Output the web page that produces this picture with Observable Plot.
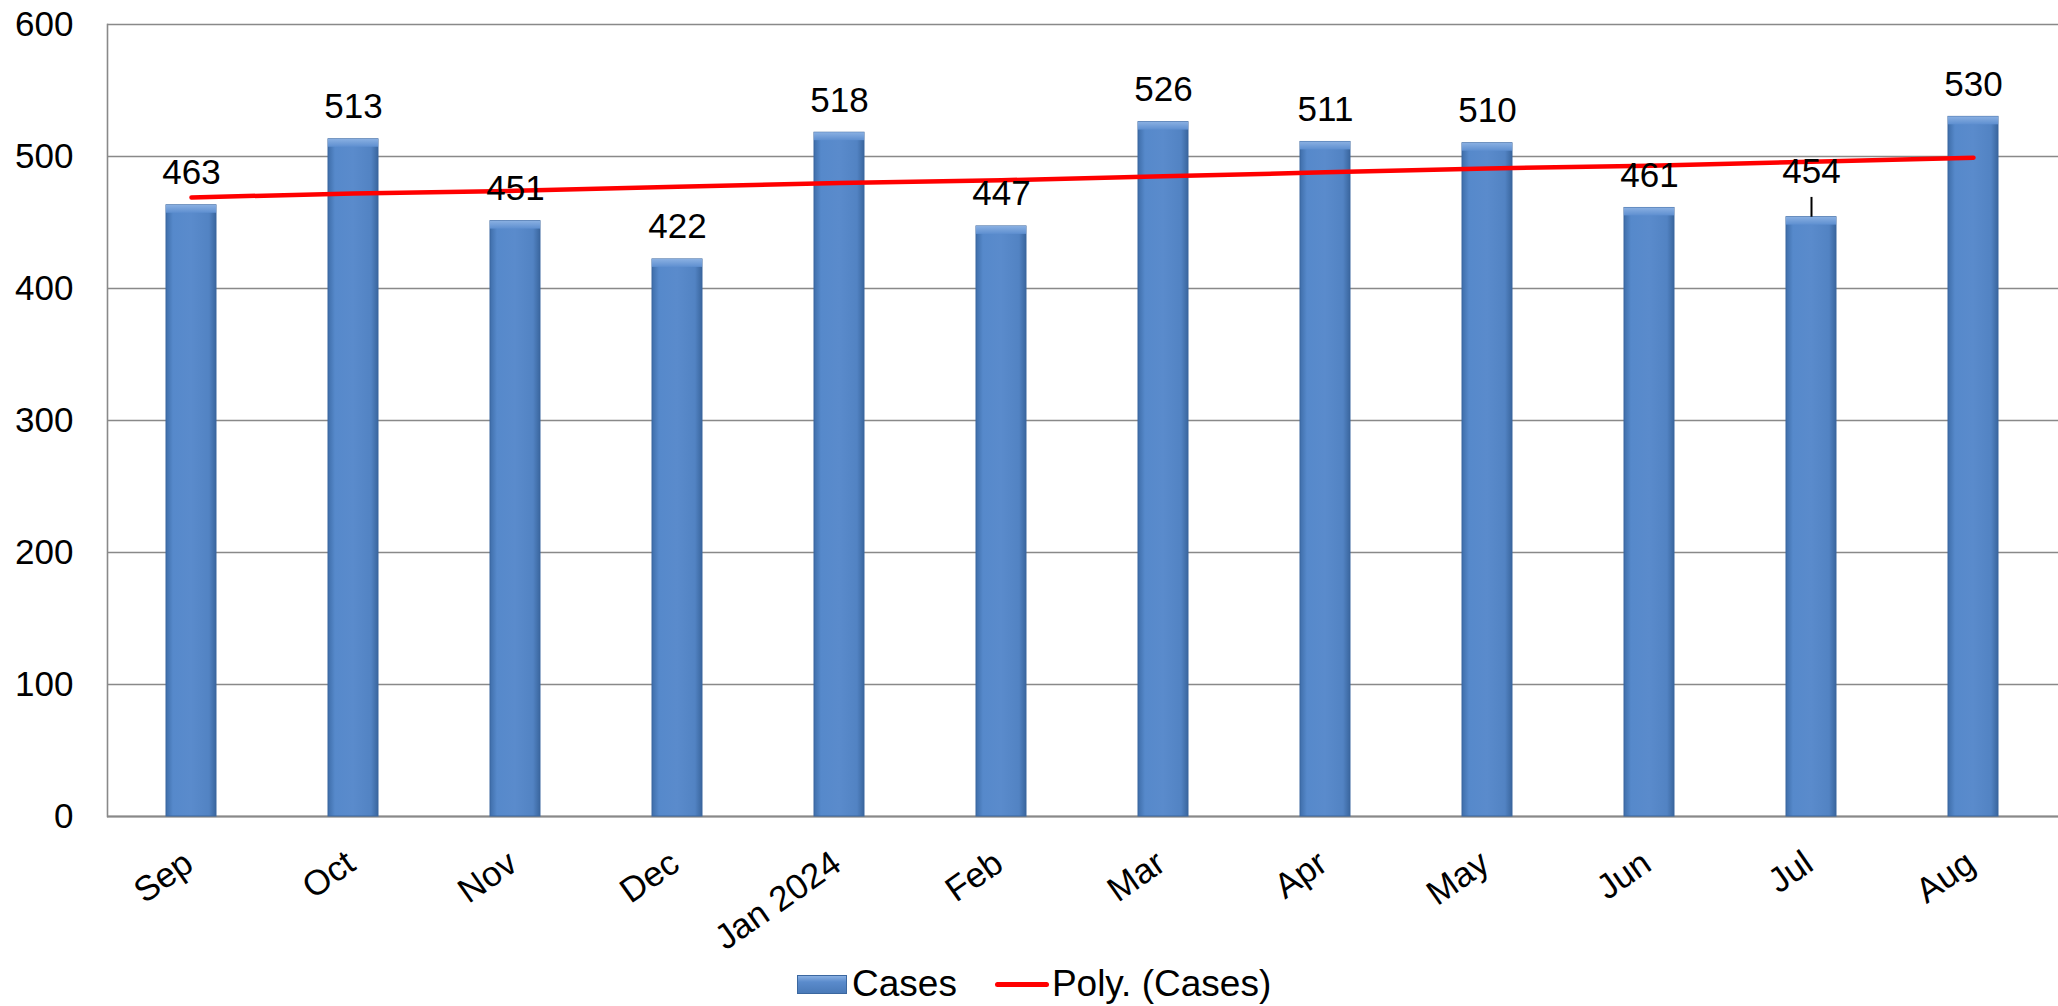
<!DOCTYPE html>
<html>
<head>
<meta charset="utf-8">
<script src="https://cdn.jsdelivr.net/npm/d3@7"></script>
<script src="https://cdn.jsdelivr.net/npm/@observablehq/plot@0.6"></script>
<style>
  html, body { margin: 0; padding: 0; background: #fff; }
  #wrap { position: relative; width: 2058px; height: 1006px; font-family: "Liberation Sans", Arial, sans-serif; }
  #legend { position: absolute; left: 797px; top: 962px; height: 44px; display: flex; align-items: center; font-size: 37px; color: #000; }
  .sw { width: 50px; height: 19px; background: linear-gradient(#8AB0E2, #5A8BCC 35%, #4A7AB8); border: 1px solid #3B679F; box-sizing: border-box; margin-right: 5px; }
  .ln { width: 54px; height: 5px; background: #FF0000; border-radius: 2.5px; margin-left: 38px; margin-right: 3px; }
</style>
</head>
<body>
<div id="wrap">
  <div id="chart"></div>
  <div id="legend"><div class="sw"></div><span>Cases</span><div class="ln"></div><span>Poly. (Cases)</span></div>
</div>
<script>
const months = ["Sep", "Oct", "Nov", "Dec", "Jan 2024", "Feb", "Mar", "Apr", "May", "Jun", "Jul", "Aug"];
const cases = [463, 513, 451, 422, 518, 447, 526, 511, 510, 461, 454, 530];
const trend = [469, 472, 474, 477, 480, 482, 485, 488, 491, 493, 496, 499];
const yTicks = [0, 100, 200, 300, 400, 500, 600];

const data = months.map((m, i) => ({month: m, cases: cases[i], trend: trend[i]}));
const lifted = new Set(["Jul"]);

const chart = Plot.plot({
  width: 2058,
  height: 1006,
  marginTop: 24,
  marginLeft: 107,
  marginRight: 0,
  marginBottom: 190,
  style: {fontFamily: "'Liberation Sans', Arial, sans-serif", background: "transparent", overflow: "visible"},
  x: {domain: months, paddingInner: 0.69, paddingOuter: 0.345, align: 0.5, axis: null},
  y: {domain: [0, 600], ticks: yTicks, axis: null},
  marks: [
    Plot.gridY(yTicks, {stroke: "#898989", strokeOpacity: 1, strokeWidth: 1.6}),
    Plot.frame({anchor: "left", stroke: "#898989", strokeWidth: 1.6}),
    Plot.ruleY([0], {stroke: "#898989", strokeWidth: 2}),
    Plot.axisY(yTicks, {tickSize: 0, tickPadding: 34, fontSize: 35, fill: "#000", textAnchor: "end"}),
    Plot.barY(data, {x: "month", y: "cases", fill: "url(#barGrad)", stroke: "#3B679F", strokeWidth: 1}),
    Plot.barY(data, {x: "month", y1: d => d.cases - 6, y2: "cases", fill: "url(#bevelGrad)"}),
    Plot.line(data, {x: "month", y: "trend", stroke: "#FF0000", strokeWidth: 4.5, strokeLinecap: "round", curve: "linear"}),
    Plot.text(data.filter(d => !lifted.has(d.month)), {x: "month", y: "cases", text: d => String(d.cases), fontSize: 35, fill: "#000", lineAnchor: "bottom", dy: -21}),
    Plot.ruleX(data.filter(d => lifted.has(d.month)), {x: "month", y1: "cases", y2: d => d.cases + 15, stroke: "#000", strokeWidth: 2}),
    Plot.text(data.filter(d => lifted.has(d.month)), {x: "month", y: "cases", text: d => String(d.cases), fontSize: 35, fill: "#000", lineAnchor: "bottom", dy: -34}),
    Plot.text(months, {x: d => d, y: 0, text: d => d, rotate: -35, textAnchor: "end", lineAnchor: "bottom", fontSize: 35, fill: "#000", dx: 4, dy: 52})
  ]
});

// gradient definitions for the bevelled bars
const svg = d3.select(chart);
const defs = svg.insert("defs", ":first-child");
const g1 = defs.append("linearGradient").attr("id", "barGrad").attr("x1", "0").attr("x2", "1").attr("y1", "0").attr("y2", "0");
[["0%", "#3F6EAA"], ["14%", "#5689CB"], ["50%", "#5A8BCC"], ["86%", "#5283C3"], ["100%", "#3A669E"]]
  .forEach(([o, c]) => g1.append("stop").attr("offset", o).attr("stop-color", c));
const g2 = defs.append("linearGradient").attr("id", "bevelGrad").attr("x1", "0").attr("x2", "0").attr("y1", "0").attr("y2", "1");
[["0%", "#8AB0E2"], ["100%", "#5E8FD0"]]
  .forEach(([o, c]) => g2.append("stop").attr("offset", o).attr("stop-color", c));

document.getElementById("chart").appendChild(chart);
</script>
</body>
</html>
